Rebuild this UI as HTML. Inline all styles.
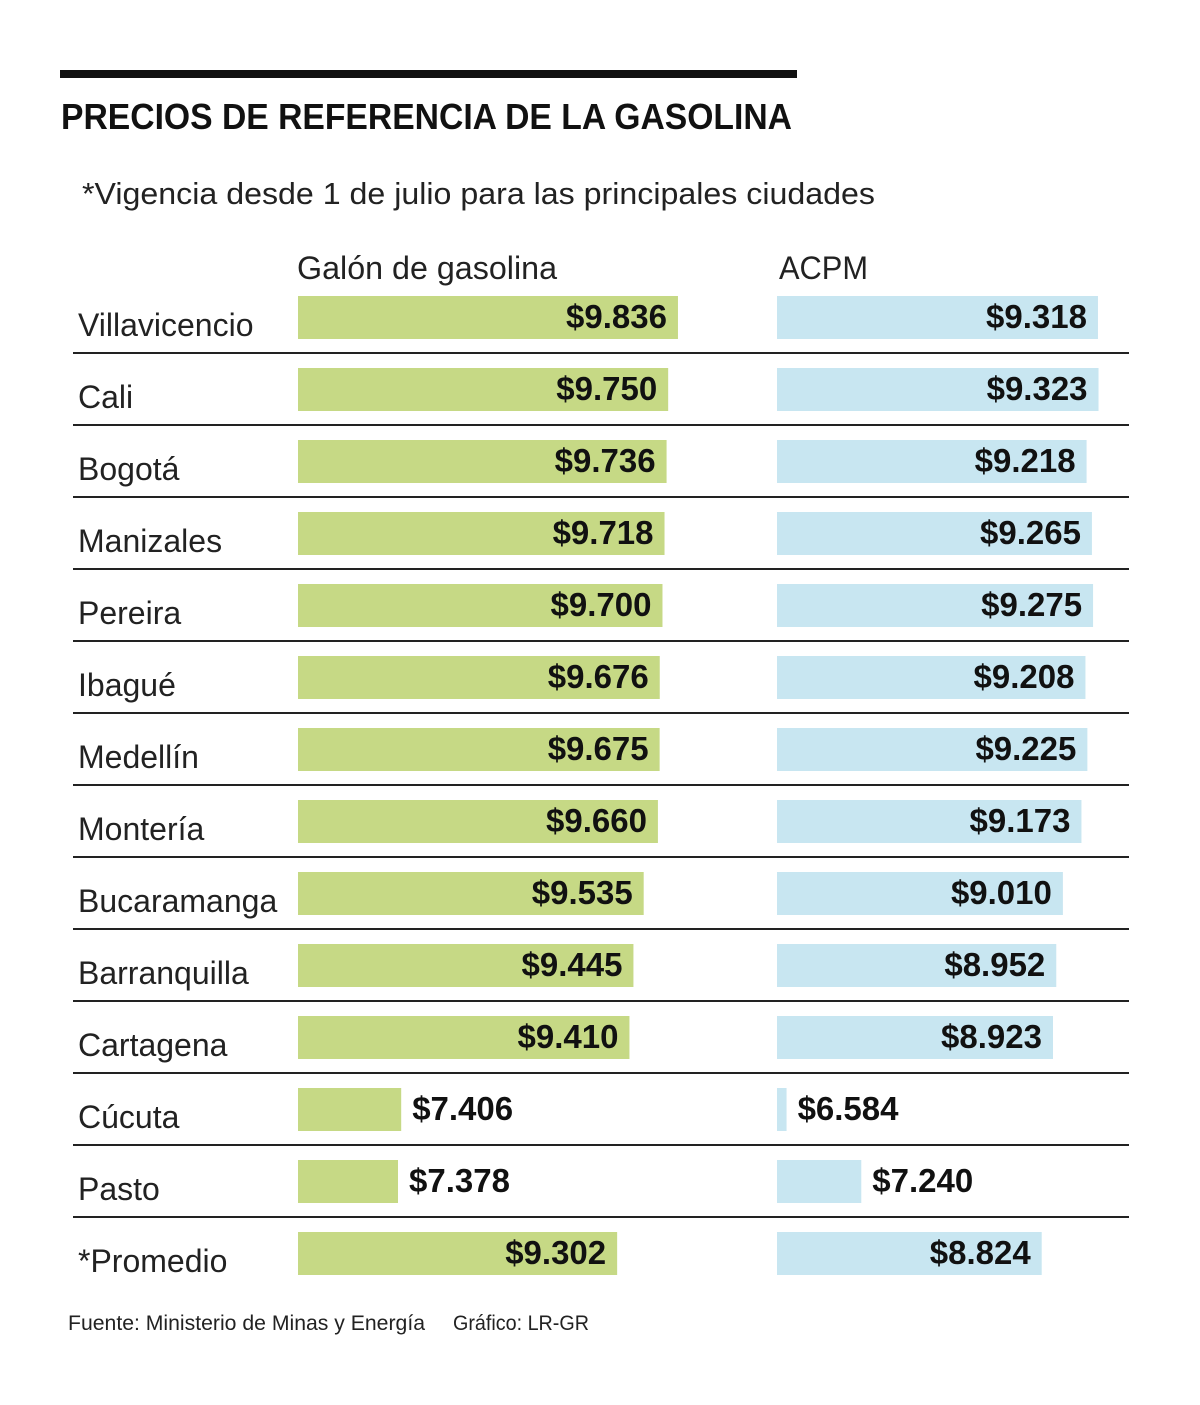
<!DOCTYPE html>
<html><head><meta charset="utf-8"><style>
html,body{margin:0;padding:0;background:#fff;}
svg{display:block;font-family:"Liberation Sans",sans-serif;}
</style></head><body>
<svg id="chart" width="1200" height="1405" viewBox="0 0 1200 1405" xmlns="http://www.w3.org/2000/svg">
<rect x="60" y="70" width="737" height="8" fill="#111"/>
<text x="61" y="129" font-size="36" font-weight="bold" textLength="731" lengthAdjust="spacingAndGlyphs" fill="#111">PRECIOS DE REFERENCIA DE LA GASOLINA</text>
<text x="82" y="204" font-size="31" textLength="793" lengthAdjust="spacingAndGlyphs" fill="#222">*Vigencia desde 1 de julio para las principales ciudades</text>
<text x="297" y="279" font-size="32" textLength="260" lengthAdjust="spacingAndGlyphs" fill="#222">Galón de gasolina</text>
<text x="779" y="279" font-size="32" textLength="89" lengthAdjust="spacingAndGlyphs" fill="#222">ACPM</text>
<g id="rows"></g>
<text x="68" y="1330" font-size="21" textLength="357" lengthAdjust="spacingAndGlyphs" fill="#222">Fuente: Ministerio de Minas y Energía</text>
<text x="453" y="1330" font-size="21" textLength="136" lengthAdjust="spacingAndGlyphs" fill="#222">Gráfico: LR-GR</text>
</svg>
<script>
const cities = ["Villavicencio","Cali","Bogotá","Manizales","Pereira","Ibagué","Medellín","Montería","Bucaramanga","Barranquilla","Cartagena","Cúcuta","Pasto","*Promedio"];
const gasoline = [9836,9750,9736,9718,9700,9676,9675,9660,9535,9445,9410,7406,7378,9302];
const acpm = [9318,9323,9218,9265,9275,9208,9225,9173,9010,8952,8923,6584,7240,8824];

const NS = "http://www.w3.org/2000/svg";
const g = document.getElementById("rows");
const v0 = 6500, k = 0.1139;
function xLen(v){ return (v - v0) * k; }
function fmt(v){ const s=String(v); return "$"+s.slice(0,s.length-3)+"."+s.slice(-3); }
function mk(tag, attrs){ const e=document.createElementNS(NS,tag); for(const a in attrs) e.setAttribute(a,attrs[a]); return e; }

cities.forEach((c,i)=>{
  const top = 296 + 72*i;
  const lab = mk("text",{x:78,y:top+40,"font-size":32,fill:"#222"});
  lab.textContent = c;
  
  
  g.appendChild(lab);
  [[gasoline,298,"#c6d985","gasoline"],[acpm,777,"#c8e6f1","acpm"]].forEach(([arr,x0,col,nm])=>{
    const w = xLen(arr[i]);
    const r = mk("rect",{x:x0,y:top,width:w,height:43,fill:col});
    
    
    g.appendChild(r);
    const inside = w > 130;
    const t = mk("text",{x: inside ? x0+w-11 : x0+w+11, y: top+32, "font-size":33, "font-weight":"bold", fill:"#111", "text-anchor": inside?"end":"start"});
    t.textContent = fmt(arr[i]);
    
    
    g.appendChild(t);
  });
  if(i < cities.length-1){
    const l = mk("rect",{x:73,y:352+72*i,width:1056,height:2,fill:"#222"});
    
    
    g.appendChild(l);
  }
});
</script>
</body></html>
